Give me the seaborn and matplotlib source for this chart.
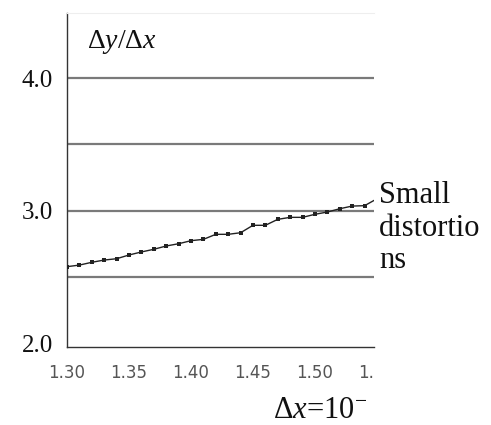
import seaborn as sns
import numpy as np
import matplotlib.pyplot as plt
from matplotlib.transforms import Bbox, TransformedBbox, ScaledTranslation

# readings (step 0.01)
x_vals = [1.30, 1.31, 1.32, 1.33, 1.34, 1.35, 1.36, 1.37, 1.38, 1.39,
          1.40, 1.41, 1.42, 1.43, 1.44, 1.45, 1.46, 1.47, 1.48, 1.49,
          1.50, 1.51, 1.52, 1.53, 1.54, 1.55]
ratio = [2.578, 2.590, 2.611, 2.628, 2.638, 2.666, 2.689, 2.709, 2.734, 2.751,
         2.774, 2.784, 2.822, 2.822, 2.834, 2.890, 2.890, 2.935, 2.950, 2.950,
         2.973, 2.990, 3.015, 3.035, 3.038, 3.090]

grid_levels = [2.5, 3.0, 3.5, 4.0]
y_ticks = [2.0, 3.0, 4.0]
y_labels = ['2.0', '3.0', '4.0']
x_ticks = [1.30, 1.35, 1.40, 1.45, 1.50]
x_labels = ['1.30', '1.35', '1.40', '1.45', '1.50']

sns.set_style('white')
plt.rcParams['font.family'] = ['Liberation Serif', 'DejaVu Serif']
plt.rcParams['mathtext.fontset'] = 'custom'
plt.rcParams['mathtext.rm'] = 'Liberation Serif'
plt.rcParams['mathtext.it'] = 'Liberation Serif:italic'

fig = plt.figure(figsize=(4.91, 4.25), dpi=100)
ax = fig.add_axes([67 / 491, 1 - 347.3 / 425, (374 - 67) / 491, (347.3 - 13) / 425])

for g in grid_levels:
    ax.axhline(g, color='#7a7a7a', lw=1.6, zorder=1)

sns.lineplot(x=x_vals, y=ratio, ax=ax, color='#222222', lw=1.0,
             marker='s', markersize=2.8, markeredgewidth=0, zorder=3)

ax.set_xlim(1.30, 1.5476)
ax.set_ylim(1.970, 4.491)

ax.set_yticks(y_ticks)
ax.set_yticklabels(y_labels, fontsize=18, color='#111111')
ax.tick_params(axis='y', length=0, pad=10)

ax.set_xticks(x_ticks)
ax.set_xticklabels(x_labels, fontsize=12, color='#555555', family='DejaVu Sans')
ax.tick_params(axis='x', direction='in', length=7, width=1, color='#444444', pad=12)

for side in ['left', 'bottom']:
    ax.spines[side].set_color('#333333')
    ax.spines[side].set_linewidth(1.0)
ax.spines['top'].set_color('#eeeeee')
ax.spines['right'].set_visible(False)

# cut-off tick label at the right border of the plot
clip = TransformedBbox(Bbox([[0, 0], [374 / 491, 1]]), fig.transFigure)
t1 = ax.text(1.55, 1.970, '1.55', ha='center', va='top',
             fontsize=12, color='#555555', family='DejaVu Sans', clip_on=True)
t1.set_transform(ax.transData + ScaledTranslation(0, -17 / 100, fig.dpi_scale_trans))
t1.set_clip_box(clip)

fig.text(273 / 491, 7 / 425, r'$\Delta x$=10$^{-}$', fontsize=22,
         ha='left', va='baseline', color='#111111')

fig.text(87 / 491, 1 - 47.7 / 425, r'$\Delta y/\Delta x$',
         fontsize=20, ha='left', va='baseline', color='#111111')

# baseline refers to the last line here
fig.text(379 / 491, 1 - 268 / 425, 'Small\ndistortio\nns', fontsize=22,
         ha='left', va='baseline', linespacing=1.15, color='#111111')

fig.savefig('out.png', dpi=100)
